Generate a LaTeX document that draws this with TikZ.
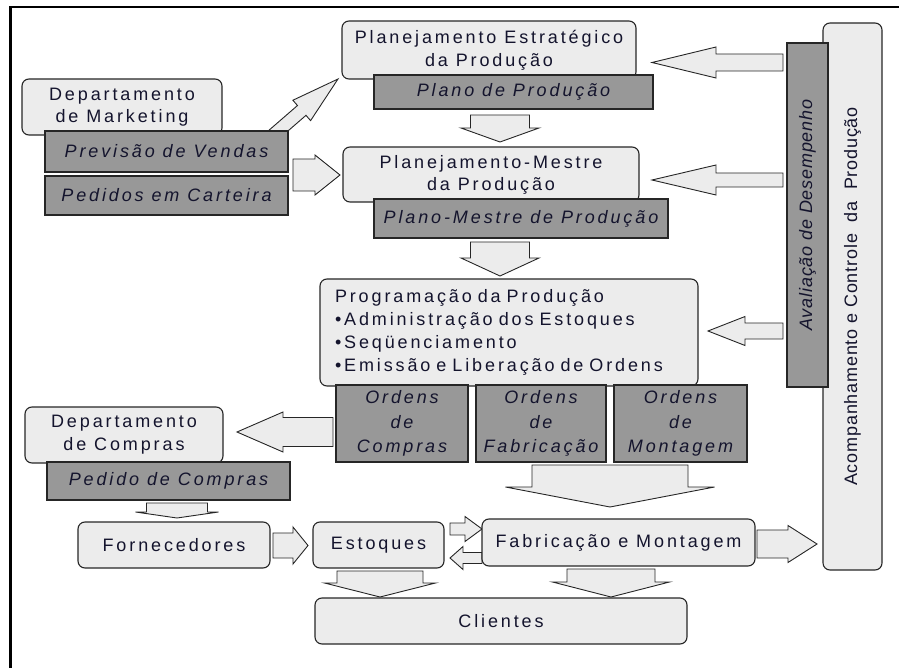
\documentclass[tikz,border=0pt]{standalone}
\usepackage{fontspec}
\setmainfont{Liberation Sans}
\newfontfamily\hfnt[LetterSpace=16]{Liberation Sans}
\newfontfamily\vfnt[LetterSpace=4.5]{Liberation Sans}
\usetikzlibrary{calc}
\definecolor{lightf}{RGB}{236,236,236}
\definecolor{darkf}{RGB}{152,152,152}
\definecolor{txt}{RGB}{20,20,45}
\tikzset{
  lightbox/.style={draw=black!85, line width=1.1pt, fill=lightf, rounded corners=7pt,
    inner sep=0pt, text=txt, align=center, font=\hfnt\fontsize{18}{23}\selectfont},
  darkbox/.style={draw=black!85, line width=1.1pt, fill=darkf, inner sep=0pt,
    text=txt, align=center, font=\hfnt\itshape\fontsize{18}{24.5}\selectfont},
  barrow/.style={draw=black!85, line width=0.9pt, fill=lightf, line join=miter},
}
% #1 start, #2 tip, #3 shaft half width, #4 head half width, #5 head length
\newcommand\blockarrow[5]{%
  \coordinate (bah) at ($(#2)!#5pt!(#1)$);
  \draw[barrow] ($(#1)!#3pt!90:(#2)$) -- ($(bah)!#3pt!90:(#2)$) -- ($(bah)!#4pt!90:(#2)$)
    -- (#2) -- ($(bah)!#4pt!-90:(#2)$) -- ($(bah)!#3pt!-90:(#2)$) -- ($(#1)!#3pt!-90:(#2)$) -- cycle;
}
\begin{document}
\begin{tikzpicture}[x=1pt,y=-1pt]
\useasboundingbox (0,0) rectangle (899,668);
% frame
\draw[line width=2.5pt] (10.5,668) -- (10.5,7) -- (899,7);

% arrow coordinates
\coordinate (a1s) at (783,62.5);   \coordinate (a1t) at (652,62.5);
\coordinate (a2s) at (783,180);    \coordinate (a2t) at (652,180);
\coordinate (a3s) at (783,331);    \coordinate (a3t) at (708,331);
\coordinate (d1s) at (500,115);    \coordinate (d1t) at (500,142);
\coordinate (d2s) at (500,242);    \coordinate (d2t) at (500,276);
\coordinate (mks) at (293,175);    \coordinate (mkt) at (340,175);
\coordinate (dgs) at (271.2,136.9);\coordinate (dgt) at (338,79);
\coordinate (ocs) at (333,432);    \coordinate (oct) at (237,432);
\coordinate (pcs) at (177,503);    \coordinate (pct) at (177,518);
\coordinate (fes) at (273,545.5);  \coordinate (fet) at (308,545.5);
\coordinate (efs) at (450,529);    \coordinate (eft) at (482,529);
\coordinate (fbs) at (482,558);    \coordinate (fbt) at (450,558);
\coordinate (ofs) at (610,465);    \coordinate (oft) at (610,507);
\coordinate (fas) at (757,544);    \coordinate (fat) at (817,544);
\coordinate (fcs) at (611,569);    \coordinate (fct) at (611,597);
\coordinate (ecs) at (380,571);    \coordinate (ect) at (380,597);

\blockarrow{a1s}{a1t}{8.5}{15.5}{64}
\blockarrow{a2s}{a2t}{7}{15}{64}
\blockarrow{a3s}{a3t}{8}{14.5}{37}
\blockarrow{d1s}{d1t}{29.5}{39}{14}
\blockarrow{d2s}{d2t}{29.5}{39}{18}
\blockarrow{mks}{mkt}{16}{20}{25}
\blockarrow{dgs}{dgt}{6.5}{13.5}{48}
\blockarrow{ocs}{oct}{14.5}{20}{46}
\blockarrow{pcs}{pct}{30.5}{41.5}{6}
\blockarrow{fes}{fet}{12.5}{18.5}{15}
\blockarrow{efs}{eft}{6}{12.5}{17}
\blockarrow{fbs}{fbt}{5.5}{11.5}{13}
\blockarrow{ofs}{oft}{78}{104.5}{20}
\blockarrow{fas}{fat}{14}{18.5}{29}
\blockarrow{fcs}{fct}{44}{58.5}{15}
\blockarrow{ecs}{ect}{43}{55.5}{14}

% light boxes
\node[lightbox, minimum width=200, minimum height=56, font=\hfnt\fontsize{18}{22}\selectfont] (mkt) at (122,107) {Departamento\\de Marketing};
\node[lightbox, minimum width=294, minimum height=58] (pe) at (489,50) {Planejamento Estratégico\\da Produção};
\node[lightbox, minimum width=296, minimum height=55, font=\hfnt\fontsize{18}{22}\selectfont] (pm) at (491,174.5) {Planejamento-Mestre\\da Produção};
\node[lightbox, minimum width=378, minimum height=107, text width=348, align=left] (prog) at (509,332.5)
  {Programação da Produção\\•Administração dos Estoques\\•Seqüenciamento\\•Emissão e Liberação de Ordens};
\node[lightbox, minimum width=198, minimum height=56] (dc) at (124,435) {Departamento\\de Compras};
\node[lightbox, minimum width=192, minimum height=46] (forn) at (174,545) {Fornecedores};
\node[lightbox, minimum width=131, minimum height=46] (est) at (378.5,545) {Estoques};
\node[lightbox, minimum width=273, minimum height=47] (fab) at (618.5,542.5) {Fabricação e Montagem};
\node[lightbox, minimum width=372, minimum height=46] (cli) at (501,621) {Clientes};
\node[lightbox, minimum width=547, minimum height=59, rotate=90, font=\vfnt\fontsize{18}{22}\selectfont] (acomp) at (852.5,296.5)
  {Acompanhamento e Controle~~da~~Produção};

% dark boxes
\node[darkbox, minimum width=243, minimum height=41] (prev) at (166.5,151.5) {Previsão de Vendas};
\node[darkbox, minimum width=243, minimum height=39] (ped) at (166.5,195.5) {Pedidos em Carteira};
\node[darkbox, minimum width=279, minimum height=34] (plano) at (513.5,92) {Plano de Produção};
\node[darkbox, minimum width=294, minimum height=39] (mestre) at (521,218.5) {Plano-Mestre de Produção};
\node[darkbox, minimum width=132, minimum height=77] (oc) at (402,423.5) {Ordens\\de\\Compras};
\node[darkbox, minimum width=130, minimum height=77] (of) at (541,423.5) {Ordens\\de\\Fabricação};
\node[darkbox, minimum width=133, minimum height=77] (om) at (680.5,423.5) {Ordens\\de\\Montagem};
\node[darkbox, minimum width=243, minimum height=38] (pc) at (168.5,481) {Pedido de Compras};
\node[darkbox, minimum width=344, minimum height=41, rotate=90, font=\vfnt\itshape\fontsize{18}{22}\selectfont] (aval) at (807.5,215)
  {Avaliação de Desempenho};
\end{tikzpicture}
\end{document}
